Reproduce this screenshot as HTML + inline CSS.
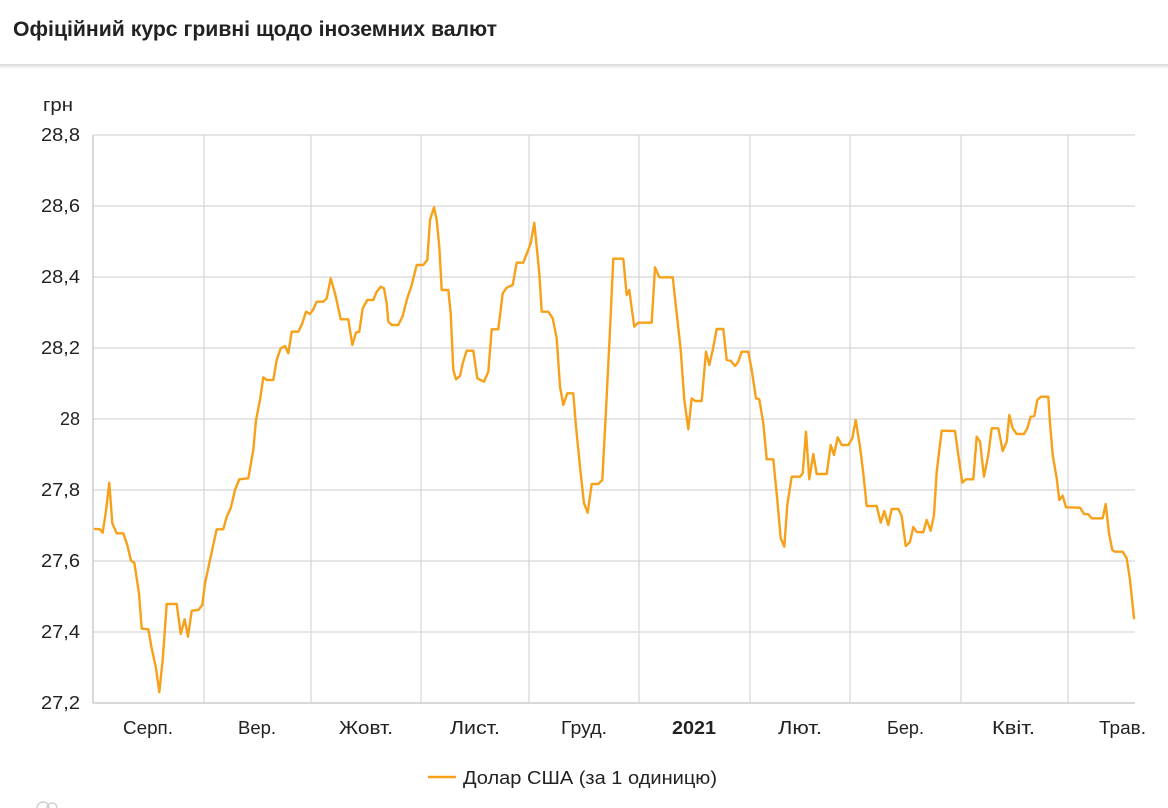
<!DOCTYPE html>
<html><head><meta charset="utf-8">
<style>
html,body{margin:0;padding:0;background:#fff;width:1168px;height:808px;overflow:hidden;}
svg{display:block;}
text{font-family:"Liberation Sans","DejaVu Sans",sans-serif;fill:#222;}
</style></head>
<body>
<svg width="1168" height="808" viewBox="0 0 1168 808" xmlns="http://www.w3.org/2000/svg">
<defs>
<linearGradient id="sh" x1="0" y1="0" x2="0" y2="1">
<stop offset="0" stop-color="#d8d8d8"/><stop offset="1" stop-color="#ffffff"/>
</linearGradient>
</defs>
<rect x="0" y="0" width="1168" height="808" fill="#fff"/>
<text x="13" y="36" font-size="21" font-weight="bold" textLength="484" lengthAdjust="spacingAndGlyphs" fill="#111">Офіційний курс гривні щодо іноземних валют</text>
<rect x="0" y="64" width="1168" height="5" fill="url(#sh)"/>

<g stroke="#d6d6d6" stroke-width="1.2" fill="none">
<line x1="93" y1="135" x2="1135" y2="135"/>
<line x1="93" y1="206" x2="1135" y2="206"/>
<line x1="93" y1="277" x2="1135" y2="277"/>
<line x1="93" y1="348" x2="1135" y2="348"/>
<line x1="93" y1="419" x2="1135" y2="419"/>
<line x1="93" y1="490" x2="1135" y2="490"/>
<line x1="93" y1="561" x2="1135" y2="561"/>
<line x1="93" y1="632" x2="1135" y2="632"/>
<line x1="204" y1="135" x2="204" y2="703"/>
<line x1="311" y1="135" x2="311" y2="703"/>
<line x1="421" y1="135" x2="421" y2="703"/>
<line x1="529" y1="135" x2="529" y2="703"/>
<line x1="639" y1="135" x2="639" y2="703"/>
<line x1="750" y1="135" x2="750" y2="703"/>
<line x1="850" y1="135" x2="850" y2="703"/>
<line x1="961" y1="135" x2="961" y2="703"/>
<line x1="1068" y1="135" x2="1068" y2="703"/>
</g>
<g stroke="#cccccc" stroke-width="1.5">
<line x1="93" y1="135" x2="93" y2="703"/>
<line x1="93" y1="703" x2="1135" y2="703"/>
</g>

<text x="43" y="111" font-size="18" textLength="30" lengthAdjust="spacingAndGlyphs">грн</text>
<g font-size="18" text-anchor="end">
<text x="80" y="141" textLength="39" lengthAdjust="spacingAndGlyphs">28,8</text>
<text x="80" y="212" textLength="39" lengthAdjust="spacingAndGlyphs">28,6</text>
<text x="80" y="283" textLength="39" lengthAdjust="spacingAndGlyphs">28,4</text>
<text x="80" y="354" textLength="39" lengthAdjust="spacingAndGlyphs">28,2</text>
<text x="80" y="425">28</text>
<text x="80" y="496" textLength="39" lengthAdjust="spacingAndGlyphs">27,8</text>
<text x="80" y="567" textLength="39" lengthAdjust="spacingAndGlyphs">27,6</text>
<text x="80" y="638" textLength="39" lengthAdjust="spacingAndGlyphs">27,4</text>
<text x="80" y="709" textLength="39" lengthAdjust="spacingAndGlyphs">27,2</text>
</g>
<g font-size="18">
<text x="123" y="734" textLength="50" lengthAdjust="spacingAndGlyphs">Серп.</text>
<text x="238" y="734" textLength="38" lengthAdjust="spacingAndGlyphs">Вер.</text>
<text x="339" y="734" textLength="54" lengthAdjust="spacingAndGlyphs">Жовт.</text>
<text x="450" y="734" textLength="50" lengthAdjust="spacingAndGlyphs">Лист.</text>
<text x="561" y="734" textLength="46" lengthAdjust="spacingAndGlyphs">Груд.</text>
<text x="672" y="734" font-weight="bold" textLength="44" lengthAdjust="spacingAndGlyphs">2021</text>
<text x="778" y="734" textLength="44" lengthAdjust="spacingAndGlyphs">Лют.</text>
<text x="887" y="734" textLength="37" lengthAdjust="spacingAndGlyphs">Бер.</text>
<text x="992" y="734" textLength="43" lengthAdjust="spacingAndGlyphs">Квіт.</text>
<text x="1099" y="734" textLength="47" lengthAdjust="spacingAndGlyphs">Трав.</text>
</g>

<polyline fill="none" stroke="#F7A11B" stroke-width="2.4" stroke-linejoin="round" stroke-linecap="round" points="
95,529 100,529.3 102.7,532.7 105.7,513 109.3,482.7 112.3,523.3 116.7,533.3 123.3,533.3 127.3,545 131,560.7 134.3,562.7 139,593.3 141.7,628.7 148.3,629.3 151.7,648.3 156,668.3 159.3,692.3 162.7,660 166.7,604 176.7,604 180.7,634 184.7,619.3 188,636.7 191.7,610.7 198.3,610 202.3,605 205,583.3 210,560 216.7,529.3 223.3,529.3 226.7,516.7 230.7,508.3 235,490 239.3,479.3 248.3,478.3 253.3,450 256,420 260,400 263.3,377.3 266.7,380 273.3,380 276.7,360 280.7,348.3 285,346 288.3,353.3
291.7,331.7 298.3,331.7 302.3,323.3 306,311.7 310,314 313.3,309.3 316.7,301.7 323.3,301.7 326.7,298.3 330.7,278.3 335,293.3 340.7,319.3 348.3,319.3 352.3,345 356,332.7 359.3,331.7 362.7,308.3 367.3,300 373.3,300 376.7,291.7 380.7,286.7 384,288.3 386.7,303.3 388.3,321.7 391.7,325 398.3,325 402.7,316 406.7,300 411.7,285 416.7,265 423.3,265 427.3,260 430,220 434,207.3 436.7,220 439.3,246.7 441.7,290 448.3,290 450.7,313.3 453.3,370 456,379.3 460,376 462.7,363.3 466.7,350.7 473.3,350.7 477.3,378.3 484,381.7 488.3,371.7 491.7,329.3 498.3,329.3
502.7,293.3 506.7,287.7 512.7,285 516.7,262.7 523.3,262.7 530.7,243.3 534.3,222.7 539.3,273.3 541.7,311.7 548.3,311.7 552.7,318.3 556.7,338.3 560,386.7 563.3,405 567.3,393.3 573.3,393.3 576,426.7 580,466.7 584,503.3 587.7,512.7 591.7,484 598.3,484 602.3,480 606,410 610,330 613.3,258.7 623.3,258.7 626.7,295 629.3,290 631.7,308.3 634.3,326.7 638.3,322.7 651.7,322.7 655,267.3 659.3,277.3 672.7,277.3 676.7,313.3 680.7,350 684.3,400 688.3,429.3 691.7,398.3 695,401 701.7,401
706,351.7 709.3,365 712.7,350 716.7,329 723.3,329 726.7,360 730.7,360.7 735,366 738.3,361.7 741.7,351.7 748.3,351.7 751.7,370 756,398.3 759.3,399.3 763.3,423.3 766.7,459.3 773.3,459.3 777.3,500 780.7,538.3 784.3,546.7 787.3,505 791.7,476.7 800,476.7 802.7,473.3 806,431.7 809.3,479.3 813.3,454 816.7,474 826.7,474 830.7,445 834,455 837.7,437.3 841.7,445 848.3,445 852.3,438.3 855.7,420 860,446.7 863.3,473.3 866.7,506 876.7,506 880.7,522.7 884.3,511 888.3,525 891.7,509 898.3,509 901.7,516 905.7,546 910,542 913.3,527 916.7,532
923.3,532.3 926.7,520 930.7,530.7 934,515 936.7,471.7 941.7,430.7 955,431 958.3,455 962.3,482.7 966,479.3 973.3,479.3 976.7,436.7 980,441.7 984,476.7 988.3,455 991.7,428.3 998.3,428.3 1002.7,451 1006.7,441.7 1009.3,415 1012.7,428.3 1016.7,434 1024,434 1027.3,428.3 1030.7,416.7 1034.3,416 1037.3,400 1041,396.7 1048.3,396.7 1050,423.3 1052.7,455 1056.7,478.3 1059.3,500 1062.7,495.7 1066,507.3 1080,507.7 1084,514 1088.3,514.3 1091.7,518.3 1102.7,518.3 1105.7,504 1109,533.3 1112.3,550 1115,551.7 1122.7,551.7 1126.7,558.3 1130,580 1134,618.3"/>

<line x1="428" y1="777" x2="456" y2="777" stroke="#F7A11B" stroke-width="2.5"/>
<text x="463" y="784" font-size="18" textLength="254" lengthAdjust="spacingAndGlyphs">Долар США (за 1 одиницю)</text>

<g fill="none" stroke="#d0d0d0" stroke-width="1.5">
<path d="M37 808 A6 6 0 0 1 49 808"/>
<path d="M47 808 A5 5 0 0 1 57 808"/>
</g>
</svg>
</body></html>
